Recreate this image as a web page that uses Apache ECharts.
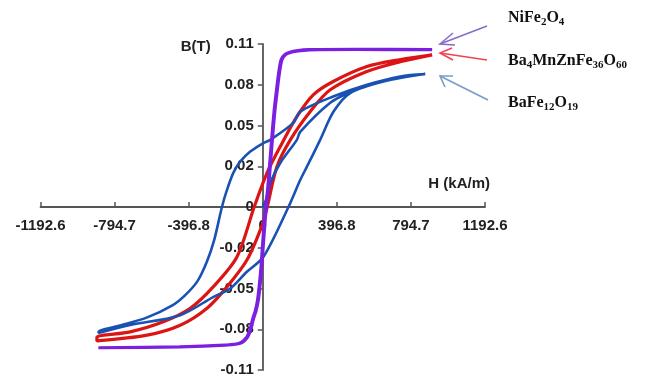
<!DOCTYPE html>
<html>
<head>
<meta charset="utf-8">
<script src="https://cdn.jsdelivr.net/npm/echarts@6/dist/echarts.min.js"></script>
<style>
html,body{margin:0;padding:0;background:#fff;}
#c{width:645px;height:377px;}
</style>
</head>
<body>
<div id="c"></div>
<script>
// Tick labels (as printed on the reference; ticks are evenly spaced)
const xTickLabels = ['-1192.6','-794.7','-396.8','0','396.8','794.7','1192.6'];
const yTickLabels = ['-0.11','-0.08','-0.05','-0.02','0','0.02','0.05','0.08','0.11'];

// NiFe2O4 loop: descending branch then ascending branch  [H (kA/m), B (T)]
const niDown = [[909,0.1062],[500,0.1064],[250,0.1062],[180,0.1054],[146,0.1044],[118,0.1028],[99,0.0996],[86,0.091],[74,0.079],[62,0.066],[52,0.052],[36,0.027],[26,0.0115],[15,0],[1,-0.022],[-9,-0.040],[-17,-0.051],[-28,-0.063],[-40,-0.070],[-55,-0.076],[-69,-0.083],[-87,-0.088],[-125,-0.092],[-204,-0.0932],[-447,-0.0944],[-882,-0.0950]];
const niUp = [[-882,-0.0950],[-443,-0.0944],[-200,-0.0932],[-121,-0.092],[-83,-0.088],[-65,-0.083],[-51,-0.076],[-36,-0.070],[-24,-0.063],[-13,-0.051],[-5,-0.040],[5,-0.022],[19,0],[30,0.0115],[40,0.027],[56,0.052],[66,0.066],[78,0.079],[90,0.091],[103,0.0994],[121,0.1027],[148,0.1043],[180,0.1052],[250,0.1061],[500,0.1063],[909,0.1062]];

// Ba4MnZnFe36O60 loop
const redDown = [[909,0.1027],[740,0.0995],[559,0.0948],[378,0.0847],[271,0.0757],[183,0.061],[94,0.0408],[23,0.023],[-46,0],[-138,-0.0336],[-266,-0.0539],[-389,-0.0683],[-534,-0.0775],[-711,-0.0843],[-890,-0.0879]];
const redUp = [[-890,-0.0904],[-621,-0.0865],[-443,-0.0798],[-299,-0.0683],[-192,-0.0539],[-85,-0.0358],[-3,-0.0122],[24,0],[76,0.0272],[148,0.0453],[255,0.0644],[362,0.0791],[555,0.0913],[738,0.098],[909,0.1027]];

// BaFe12O19: initial curve, descending branch, ascending branch
const blueInit = [[0,0],[24,0.0068],[40,0.0162],[94,0.0297],[183,0.0453],[201,0.0507],[362,0.0703],[469,0.0777],[555,0.0818],[738,0.0872],[872,0.0897]];
const blueDown = [[872,0.0897],[738,0.0881],[559,0.0825],[378,0.0746],[201,0.0644],[164,0.0568],[40,0.0453],[1,0.043],[-67,0.0374],[-121,0.0306],[-158,0.023],[-192,0.0115],[-219,0],[-260,-0.022],[-300,-0.037],[-350,-0.050],[-420,-0.060],[-480,-0.066],[-620,-0.0745],[-765,-0.0800],[-881,-0.0843]];
const blueUp = [[-881,-0.0851],[-711,-0.0797],[-443,-0.073],[-264,-0.0606],[-174,-0.055],[-85,-0.0437],[4,-0.0336],[138,0],[201,0.0182],[237,0.0272],[308,0.0453],[380,0.0644],[469,0.0769],[648,0.0847],[872,0.0897]];

const X_STEP = 1192.6 / 3;
const Y_STEP = 0.0275;

const G_LEFT = 40.5, G_RIGHT = 160, G_TOP = 44, G_BOTTOM = 7, W = 645, H = 377;
const gw = W - G_LEFT - G_RIGHT, gh = H - G_TOP - G_BOTTOM;

const chart = echarts.init(document.getElementById('c'), null, {renderer:'canvas'});
const axisFont = {fontFamily:'Liberation Sans', fontWeight:'bold', fontSize:15, color:'#222'};
const sub = {fontFamily:'Liberation Serif', fontWeight:'bold', fontSize:11, lineHeight:11, verticalAlign:'bottom', fill:'#111', color:'#111'};
const nrm = {fontFamily:'Liberation Serif', fontWeight:'bold', fontSize:16, lineHeight:20, fill:'#111', color:'#111'};

function arrow(x1,y1,x2,y2,h1,h2,color){
  return [
    {type:'polyline', silent:true, shape:{points:[[x1,y1],[x2,y2]]}, style:{stroke:color, lineWidth:1.6, fill:null}},
    {type:'polyline', silent:true, shape:{points:[h1,[x2,y2],h2]}, style:{stroke:color, lineWidth:1.6, fill:null}}
  ];
}

const option = {
  backgroundColor:'#fff',
  animation:false,
  grid:{left:G_LEFT, right:G_RIGHT, top:G_TOP, bottom:G_BOTTOM, containLabel:false, outerBoundsMode:'none'},
  xAxis:{
    type:'value', min:-3*X_STEP, max:3*X_STEP, interval:X_STEP,
    position:'bottom', offset:-gh/2,
    name:'H (kA/m)', nameLocation:'end', nameGap:5,
    nameTextStyle:Object.assign({}, axisFont, {align:'right', verticalAlign:'bottom', lineHeight:18, padding:[0,0,14,0]}),
    axisLine:{onZero:false, lineStyle:{color:'#555', width:1.8}},
    axisTick:{inside:true, length:5, lineStyle:{color:'#555', width:1.5}},
    axisLabel:Object.assign({}, axisFont, {margin:11, formatter:function(v){return xTickLabels[Math.round(v/X_STEP)+3];}}),
    splitLine:{show:false}
  },
  yAxis:{
    type:'value', min:-4*Y_STEP, max:4*Y_STEP, interval:Y_STEP,
    position:'left', offset:-gw/2,
    name:'B(T)', nameLocation:'end', nameGap:-3,
    nameTextStyle:Object.assign({}, axisFont, {align:'right', verticalAlign:'middle', padding:[0,52,0,0]}),
    axisLine:{onZero:false, lineStyle:{color:'#555', width:1.8}},
    axisTick:{inside:false, length:5, lineStyle:{color:'#555', width:1.5}},
    axisLabel:Object.assign({}, axisFont, {margin:9, formatter:function(v){return yTickLabels[Math.round(v/Y_STEP)+4];}}),
    splitLine:{show:false}
  },
  series:[
    {name:'Ba4MnZnFe36O60', type:'line', smooth:0.3, showSymbol:false, data:redDown.concat(redUp),
      lineStyle:{color:'#dc1414', width:3.2}, z:2},
    {name:'BaFe12O19', type:'line', smooth:0.3, showSymbol:false, data:blueInit.concat(blueDown, blueUp),
      lineStyle:{color:'#1a52b4', width:2.6}, z:3},
    {name:'NiFe2O4', type:'line', smooth:0.3, showSymbol:false, data:niDown.concat(niUp),
      lineStyle:{color:'#7b1fe0', width:3.2}, z:4}
  ],
  graphic:[].concat(
    arrow(487,26,440,44,[453,33],[455,45],'#8a6cc8'),
    arrow(487,60,440,53,[452,48],[453,60],'#ee4455'),
    arrow(488,100,440,76,[453,76],[445,87],'#7a9cc8'),
    [
      {type:'text', silent:true, style:{x:508, y:18, verticalAlign:'middle', text:'{n|NiFe}{s|2}{n|O}{s|4}', rich:{n:nrm, s:sub}}},
      {type:'text', silent:true, style:{x:508, y:61, verticalAlign:'middle', text:'{n|Ba}{s|4}{n|MnZnFe}{s|36}{n|O}{s|60}', rich:{n:nrm, s:sub}}},
      {type:'text', silent:true, style:{x:508, y:103, verticalAlign:'middle', text:'{n|BaFe}{s|12}{n|O}{s|19}', rich:{n:nrm, s:sub}}}
    ]
  )
};
chart.setOption(option);
</script>
</body>
</html>
